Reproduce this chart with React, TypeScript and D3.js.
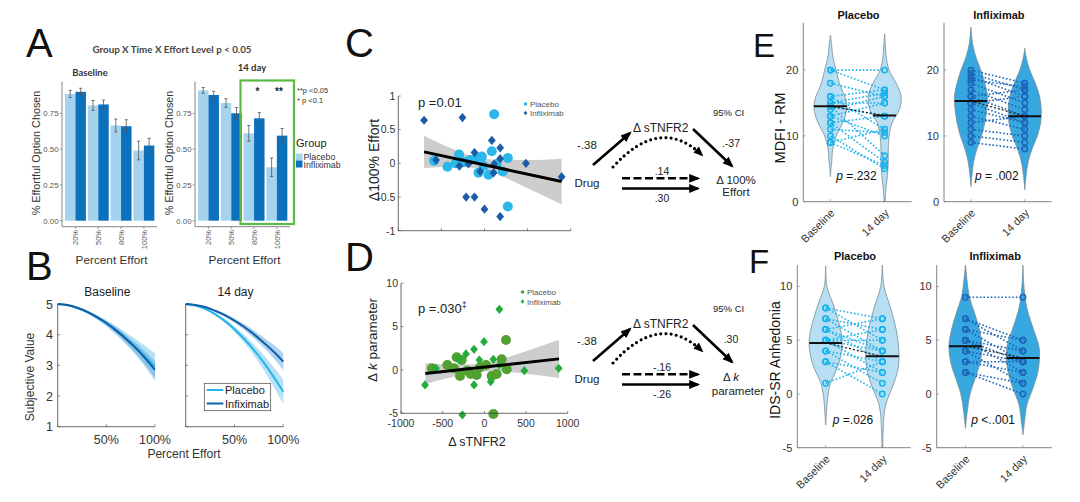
import React from 'react';
import * as d3 from 'd3';

const FONT = "'Liberation Sans', Arial, Helvetica, sans-serif";

// ---------- Panel A data ----------
const effortLevels = ['20%', '50%', '80%', '100%'];
const aBasePlacebo = [0.885, 0.805, 0.665, 0.49];
const aBaseInflix = [0.9, 0.812, 0.66, 0.525];
const aBasePlaceboErr = [0.025, 0.035, 0.045, 0.065];
const aBaseInflixErr = [0.025, 0.03, 0.045, 0.05];
const a14Placebo = [0.91, 0.822, 0.61, 0.373];
const a14Inflix = [0.878, 0.75, 0.715, 0.594];
const a14PlaceboErr = [0.02, 0.03, 0.055, 0.065];
const a14InflixErr = [0.025, 0.04, 0.04, 0.05];
const aYTicks = [0, 0.25, 0.5, 0.75];
const aYTickLabels = ['0.00', '0.25', '0.50', '0.75'];

// ---------- Panel B data ----------
const bEffort = [0, 0.1, 0.2, 0.3, 0.4, 0.5, 0.6, 0.7, 0.8, 0.9, 1.0];
const bBasePlacebo = [5.0, 4.96, 4.87, 4.74, 4.57, 4.37, 4.14, 3.88, 3.6, 3.29, 2.95];
const bBasePlaceboCI = [0, 0.01, 0.02, 0.04, 0.07, 0.1, 0.14, 0.19, 0.26, 0.34, 0.45];
const bBaseInflix = [5.0, 4.97, 4.88, 4.75, 4.58, 4.38, 4.14, 3.87, 3.57, 3.23, 2.85];
const bBaseInflixCI = [0, 0.01, 0.02, 0.03, 0.05, 0.07, 0.1, 0.13, 0.17, 0.22, 0.28];
const b14Placebo = [5.0, 4.95, 4.84, 4.67, 4.45, 4.18, 3.86, 3.5, 3.09, 2.63, 2.14];
const b14PlaceboCI = [0, 0.01, 0.02, 0.04, 0.06, 0.09, 0.13, 0.18, 0.24, 0.32, 0.4];
const b14Inflix = [5.0, 4.97, 4.9, 4.78, 4.64, 4.46, 4.25, 4.01, 3.74, 3.45, 3.12];
const b14InflixCI = [0, 0.01, 0.02, 0.03, 0.05, 0.07, 0.1, 0.13, 0.17, 0.22, 0.28];
const bYTicks = [1, 2, 3, 4, 5];
const bXTicks = [0.5, 1.0];
const bXTickLabels = ['50%', '100%'];

// ---------- Panel C data ----------
const cPlaceboX = [112, -585, -430, -295, -333, -167, -89, -31, 85, -12, -70, 46, 143, 213, 271, 271, -240];
const cPlaceboY = [0.73, 0.04, -0.05, 0.13, 0.0, 0.05, 0.08, 0.1, 0.18, -0.04, -0.14, -0.17, -0.01, -0.12, 0.08, -0.64, 0.02];
const cInflixX = [-701, -256, -562, -116, -291, -186, -213, -116, 0, 85, 182, 182, 112, 182, -50, 105, 481, 895];
const cInflixY = [0.64, 0.68, 0.05, 0.16, -0.04, -0.01, -0.5, -0.5, -0.68, 0.34, 0.23, -0.79, -0.01, 0.07, -0.12, -0.14, 0.0, -0.2];
const cFitX = [-701, -400, -100, 200, 500, 895];
const cFitY = [0.17, 0.09, 0.01, -0.07, -0.16, -0.27];
const cFitCI = [0.24, 0.14, 0.08, 0.12, 0.21, 0.34];
const cYTicks = [-1, -0.5, 0, 0.5, 1];
const sXTicks = [-1000, -500, 0, 500, 1000];

// ---------- Panel D data ----------
const dPlaceboX = [-628, -444, -332, -272, -292, -204, -164, -92, -52, 20, 88, 148, 208, 268, 260, 108, -364];
const dPlaceboY = [0.19, 0.58, 1.46, 1.15, -0.69, -0.08, -0.46, -0.58, 0.31, 0.58, -0.69, -0.46, 1.23, 0.08, 3.46, -5.08, 0.2];
const dInflixX = [-712, -264, -4, 180, -124, -124, -220, -60, 108, 76, 480, 892, -580, -308, 180];
const dInflixY = [-1.73, -5.19, 3.27, 7.0, -1.73, 2.38, 1.85, 1.15, 1.23, -1.35, -0.08, 0.19, 0.19, 1.23, 0.58];
const dFitX = [-708, -400, -100, 200, 500, 896];
const dFitY = [-0.42, -0.1, 0.22, 0.54, 0.86, 1.28];
const dFitCI = [1.2, 0.75, 0.45, 0.7, 1.3, 2.2];
const dYTicks = [-5, 0, 5, 10];

// ---------- Path diagrams ----------
const pathCoefC = ['-.38', '.-37', '.14', '.30'];
const pathCoefD = ['-.38', '.30', '-.16', '-.26'];

// ---------- Panel E data ----------
const ePlaceboBaseProfile = [[3.8, 0], [5, 0.03], [6, 0.08], [8, 0.14], [10, 0.35], [12, 0.75], [13, 0.9], [14.5, 1], [16, 0.88], [17, 0.7], [18, 0.55], [20, 0.35], [22, 0.15], [24, 0.07], [25.3, 0]];
const ePlacebo14Profile = [[0, 0.03], [2, 0.08], [4, 0.17], [6, 0.22], [8, 0.22], [10, 0.27], [12, 0.45], [14, 0.9], [16, 1], [18, 0.7], [20, 0.27], [22, 0.1], [24, 0.04], [25.5, 0]];
const eInflixBaseProfile = [[2.3, 0], [4, 0.06], [6, 0.16], [8, 0.36], [10, 0.64], [12, 0.84], [14, 0.96], [16, 1], [18, 0.84], [20, 0.6], [22, 0.3], [24, 0.1], [26.5, 0]];
const eInflix14Profile = [[1.8, 0], [4, 0.08], [6, 0.2], [8, 0.44], [10, 0.76], [12, 0.96], [14, 1], [16, 0.9], [18, 0.64], [20, 0.3], [22, 0.08], [23.3, 0]];
const ePlaceboBase = [20, 20, 18, 16, 16, 15, 15, 14.5, 14.5, 14, 13, 13, 12, 12, 11, 10, 9, 9];
const ePlacebo14 = [20, 17, 16, 17, 11, 16.5, 15, 13, 7, 16, 10, 15, 6, 13, 10.5, 5, 5.5, 11];
const eInflixBase = [20, 19.5, 19, 18.5, 18, 17, 16, 16, 15, 15, 14, 13, 12, 11, 10, 9];
const eInflix14 = [18, 17, 16, 17.5, 15, 14, 13, 17, 16, 12, 12, 11, 13, 10, 9, 8];
const eMedians = [14.5, 13.1, 15.3, 13.0];
const eYTicks = [0, 10, 20];

// ---------- Panel F data ----------
const fPlaceboBaseProfile = [[-2.9, 0], [-1, 0.08], [0, 0.15], [1, 0.29], [2, 0.58], [3, 0.83], [4.5, 1], [5.5, 0.96], [7, 0.73], [8.5, 0.42], [10, 0.08], [11.9, 0]];
const fPlacebo14Profile = [[-5, 0.02], [-3, 0.06], [-2, 0.1], [-1, 0.2], [0, 0.44], [1, 0.7], [2, 0.9], [3, 1], [4, 1], [6, 0.84], [8, 0.5], [10, 0.1], [12, 0]];
const fInflixBaseProfile = [[-3.2, 0], [-1.5, 0.12], [0, 0.28], [1.5, 0.6], [3, 0.9], [4.5, 1], [6, 0.84], [7.5, 0.56], [9, 0.24], [10.5, 0.1], [12, 0]];
const fInflix14Profile = [[-3.8, 0], [-2.5, 0.1], [-1, 0.24], [0.5, 0.6], [2, 0.9], [3.3, 1], [4.5, 0.96], [6, 0.64], [8, 0.24], [10, 0.06], [12, 0]];
const fPlaceboBase = [8, 8, 7, 7, 6, 6, 6, 5, 5, 5, 5, 4, 4, 3, 3, 1];
const fPlacebo14 = [7, 5, 6, 4, 7, 3, 4, 5, 2, 4, 6, 3, 1, 2, 0, 3];
const fInflixBase = [9, 7, 7, 6, 6, 5, 5, 5, 4, 4, 3, 3, 2, 2];
const fInflix14 = [9, 4, 5, 3, 5, 4, 2, 3, 3, 1, 3, 2, 0, 1];
const fMedians = [4.75, 3.5, 4.45, 3.35];
const fYTicks = [-5, 0, 5, 10];

const timeLabels = ['Baseline', '14 day'];

// colours
const A_PLAC = '#a5d3ee';
const A_INF = '#0c71bd';
const B_PLAC = '#22b4ea';
const B_INF = '#0f5fab';
const C_PLAC = '#2bb7ea';
const C_INF = '#1c5ba7';
const D_PLAC = '#52a02f';
const D_INF = '#24ad3b';
const V_PLAC_FILL = '#b6dff3';
const V_PLAC_DOT = '#1ab2ea';
const V_INF_FILL = '#37a7df';
const V_INF_DOT = '#1c64b8';
const AXIS = '#666';

// ---------- Panel A ----------
function BarChart({ x0, x1, placebo, inflix, pErr, iErr, title, titleX, titleY }: any) {
  const x = d3.scaleBand().domain(effortLevels).range([x0 + 2.5, x1 - 2.2]).paddingInner(0.08).paddingOuter(0.02);
  const y = d3.scaleLinear().domain([0, 1]).range([220.7, 77.5]);
  const bw = x.bandwidth() / 2;
  return (
    <g>
      <text x={titleX} y={titleY} fontSize={9.5} fontWeight="bold" fill="#333" textAnchor="middle" fontFamily="Lato, 'Liberation Sans', sans-serif">{title}</text>
      {effortLevels.map((l, i) => (
        <g key={l}>
          <rect x={x(l)} y={y(placebo[i])} width={bw} height={y(0) - y(placebo[i])} fill={A_PLAC} />
          <rect x={(x(l) as number) + bw} y={y(inflix[i])} width={bw} height={y(0) - y(inflix[i])} fill={A_INF} />
          {[[placebo[i], pErr[i], (x(l) as number) + bw / 2], [inflix[i], iErr[i], (x(l) as number) + bw * 1.5]].map(([v, e, cx], k) => (
            <g key={k} stroke="#555" strokeWidth={0.8}>
              <line x1={cx} x2={cx} y1={y(v - e)} y2={y(v + e)} />
              <line x1={cx - 1.6} x2={cx + 1.6} y1={y(v - e)} y2={y(v - e)} />
              <line x1={cx - 1.6} x2={cx + 1.6} y1={y(v + e)} y2={y(v + e)} />
            </g>
          ))}
          <line x1={(x(l) as number) + bw} x2={(x(l) as number) + bw} y1={226.7} y2={229} stroke={AXIS} strokeWidth={0.6} />
          <text transform={`translate(${(x(l) as number) + bw + 3},${230}) rotate(-90)`} fontSize={7.5} fill="#555" textAnchor="end">{l}</text>
        </g>
      ))}
      <line x1={x0} x2={x0} y1={81.7} y2={226.7} stroke={AXIS} strokeWidth={0.8} />
      <line x1={x0} x2={x1} y1={226.7} y2={226.7} stroke={AXIS} strokeWidth={0.8} />
      {aYTicks.map((t, i) => (
        <g key={t}>
          <line x1={x0 - 2.5} x2={x0} y1={y(t)} y2={y(t)} stroke={AXIS} strokeWidth={0.6} />
          <text x={x0 - 3.5} y={y(t) + 2.8} fontSize={7.8} fill="#555" textAnchor="end">{aYTickLabels[i]}</text>
        </g>
      ))}
      <text transform={`translate(${x0 - 22},${153}) rotate(-90)`} fontSize={10.8} fill="#333" textAnchor="middle">% Effortful Option Chosen</text>
      <text x={(x0 + x1) / 2 + 2} y={264} fontSize={11.8} fill="#333" textAnchor="middle">Percent Effort</text>
    </g>
  );
}

function PanelA() {
  return (
    <g>
      <text x={26} y={57} fontSize={40} fill="#111">A</text>
      <text x={172} y={53} fontSize={9.8} fontWeight="bold" fill="#444" textAnchor="middle" fontFamily="Lato, 'Liberation Sans', sans-serif">Group X Time X Effort Level p &lt; 0.05</text>
      <BarChart x0={62} x1={157} placebo={aBasePlacebo} inflix={aBaseInflix} pErr={aBasePlaceboErr} iErr={aBaseInflixErr} title="Baseline" titleX={90} titleY={76} />
      <BarChart x0={195} x1={290} placebo={a14Placebo} inflix={a14Inflix} pErr={a14PlaceboErr} iErr={a14InflixErr} title="14 day" titleX={252} titleY={71} />
      <rect x={240.5} y={80.5} width={53.5} height={143.5} fill="none" stroke="#5cb946" strokeWidth={2.2} />
      <text x={257.5} y={95} fontSize={10} fill="#222" textAnchor="middle" fontWeight="bold">*</text>
      <text x={279} y={95} fontSize={10} fill="#222" textAnchor="middle" fontWeight="bold">**</text>
      <text x={297} y={93} fontSize={7.5} fill="#333">**p &lt;0.05</text>
      <text x={297} y={103} fontSize={7.5} fill="#333">*  p &lt;0.1</text>
      <text x={296} y={147} fontSize={11} fill="#222">Group</text>
      <rect x={296} y={153.5} width={6.5} height={7} fill={A_PLAC} />
      <rect x={296} y={160.5} width={6.5} height={7} fill={A_INF} />
      <text x={303.5} y={159.5} fontSize={8.8} fill="#333">Placebo</text>
      <text x={303.5} y={168} fontSize={8.8} fill="#333">Infliximab</text>
    </g>
  );
}

// ---------- Panel B ----------
function CurvePanel({ x0, x1, series, title, showYLabels, legend }: any) {
  const x = d3.scaleLinear().domain([0, 1]).range([x0, x1]);
  const y = d3.scaleLinear().domain([1, 5]).range([426.7, 304]);
  const line = d3.line().x((d: any) => x(d[0])).y((d: any) => y(d[1])).curve(d3.curveMonotoneX);
  const area = d3.area().x((d: any) => x(d[0])).y0((d: any) => y(d[1] - d[2])).y1((d: any) => y(d[1] + d[2])).curve(d3.curveMonotoneX);
  return (
    <g>
      <text x={(x0 + x1) / 2 + 1} y={296} fontSize={12} fill="#222" textAnchor="middle">{title}</text>
      {series.map((s: any, i: number) => (
        <path key={'a' + i} d={area(bEffort.map((e, k) => [e, s.mean[k], s.ci[k]])) as string} fill={s.band} opacity={s.op} />
      ))}
      {series.map((s: any, i: number) => (
        <path key={'l' + i} d={line(bEffort.map((e, k) => [e, s.mean[k]])) as string} fill="none" stroke={s.color} strokeWidth={2} />
      ))}
      <line x1={x0} x2={x0} y1={y(5)} y2={y(1)} stroke="#444" strokeWidth={0.8} />
      <line x1={x0} x2={x1} y1={y(1)} y2={y(1)} stroke="#444" strokeWidth={0.8} />
      {bYTicks.map((t) => (
        <g key={t}>
          <line x1={x0} x2={x0 + 2.5} y1={y(t)} y2={y(t)} stroke="#444" strokeWidth={0.6} />
          {showYLabels && <text x={53} y={y(t) + 4.5} fontSize={12.5} fill="#333" textAnchor="end">{t}</text>}
        </g>
      ))}
      {bXTicks.map((t, i) => (
        <g key={t}>
          <line x1={x(t)} x2={x(t)} y1={y(1)} y2={y(1) - 2.5} stroke="#444" strokeWidth={0.6} />
          <text x={x(t)} y={444} fontSize={12.5} fill="#333" textAnchor="middle">{bXTickLabels[i]}</text>
        </g>
      ))}
      {legend && (
        <g>
          <rect x={204.3} y={383.3} width={66.4} height={27.4} fill="#fff" stroke="#444" strokeWidth={0.7} />
          <line x1={206.7} x2={223.3} y1={390} y2={390} stroke={B_PLAC} strokeWidth={2} />
          <line x1={206.7} x2={223.3} y1={403.5} y2={403.5} stroke={B_INF} strokeWidth={2} />
          <text x={225} y={394} fontSize={11} fill="#222">Placebo</text>
          <text x={225} y={407.5} fontSize={11} fill="#222">Infiximab</text>
        </g>
      )}
    </g>
  );
}

function PanelB() {
  return (
    <g>
      <text x={26} y={280} fontSize={40} fill="#111">B</text>
      <CurvePanel x0={57.7} x1={155} title="Baseline" showYLabels
        series={[
          { mean: bBasePlacebo, ci: bBasePlaceboCI, color: B_PLAC, band: '#9fd7f1', op: 0.75 },
          { mean: bBaseInflix, ci: bBaseInflixCI, color: B_INF, band: '#4f9fd6', op: 0.45 },
        ]} />
      <CurvePanel x0={185.7} x1={283.3} title="14 day" legend
        series={[
          { mean: b14Placebo, ci: b14PlaceboCI, color: B_PLAC, band: '#9fd7f1', op: 0.75 },
          { mean: b14Inflix, ci: b14InflixCI, color: B_INF, band: '#4f9fd6', op: 0.45 },
        ]} />
      <text transform="translate(34,377) rotate(-90)" fontSize={12} fill="#333" textAnchor="middle">Subjective Value</text>
      <text x={184} y={458} fontSize={12} fill="#333" textAnchor="middle">Percent Effort</text>
    </g>
  );
}

// ---------- Scatter (C, D) ----------
function diamondPath(cx: number, cy: number, w: number, h: number) {
  return `M${cx},${cy - h}L${cx + w},${cy}L${cx},${cy + h}L${cx - w},${cy}Z`;
}

function Scatter({ x, y, px, py, ix, iy, fitX, fitY, fitCI, pc, ic, yTicks, yTickFmt, xLabels }: any) {
  const [yLo, yHi] = y.domain();
  const area = d3.area().x((d: any) => x(d[0])).y0((d: any) => y(d[1] - d[2])).y1((d: any) => y(d[1] + d[2])).curve(d3.curveMonotoneX);
  const line = d3.line().x((d: any) => x(d[0])).y((d: any) => y(d[1]));
  const [xa, xb] = x.range();
  return (
    <g>
      <path d={area(fitX.map((v: number, i: number) => [v, fitY[i], fitCI[i]])) as string} fill="#c4c4c4" opacity={0.85} />
      {px.map((v: number, i: number) => (
        <circle key={'p' + i} cx={x(v)} cy={y(py[i])} r={5} fill={pc} />
      ))}
      {ix.map((v: number, i: number) => (
        <path key={'i' + i} d={diamondPath(x(v), y(iy[i]), 3.9, 4.6)} fill={ic} />
      ))}
      <path d={line([[fitX[0], fitY[0]], [fitX[fitX.length - 1], fitY[fitY.length - 1]]]) as string} stroke="#000" strokeWidth={3} fill="none" />
      <line x1={xa} x2={xa} y1={y(yLo)} y2={y(yHi)} stroke="#444" strokeWidth={0.8} />
      <line x1={xa} x2={xb} y1={y(yLo)} y2={y(yLo)} stroke="#444" strokeWidth={0.8} />
      {yTicks.map((t: number) => (
        <g key={t}>
          <line x1={xa} x2={xa + 2.5} y1={y(t)} y2={y(t)} stroke="#444" strokeWidth={0.6} />
          <text x={xa - 3} y={y(t) + 3.8} fontSize={10.5} fill="#333" textAnchor="end">{yTickFmt(t)}</text>
        </g>
      ))}
      {sXTicks.map((t) => (
        <g key={t}>
          <line x1={x(t)} x2={x(t)} y1={y(yLo)} y2={y(yLo) - 2.5} stroke="#444" strokeWidth={0.6} />
          {xLabels && <text x={x(t)} y={y(yLo) + 14} fontSize={10.5} fill="#333" textAnchor="middle">{t}</text>}
        </g>
      ))}
    </g>
  );
}

function PanelC() {
  const x = d3.scaleLinear().domain([-1000, 1000]).range([398.3, 570.7]);
  const y = d3.scaleLinear().domain([-1, 1]).range([230.7, 96]);
  return (
    <g>
      <text x={345} y={57} fontSize={40} fill="#111">C</text>
      <Scatter x={x} y={y} px={cPlaceboX} py={cPlaceboY} ix={cInflixX} iy={cInflixY} fitX={cFitX} fitY={cFitY} fitCI={cFitCI}
        pc={C_PLAC} ic={C_INF} yTicks={cYTicks} yTickFmt={(t: number) => String(t)} xLabels={false} />
      <text x={418} y={107} fontSize={13} fill="#222">p =0.01</text>
      <circle cx={525.5} cy={104} r={1.8} fill={C_PLAC} />
      <path d={diamondPath(525.5, 113, 1.8, 2.2)} fill={C_INF} />
      <text x={530} y={107} fontSize={8} fill="#555">Placebo</text>
      <text x={530} y={116} fontSize={8} fill="#555">Infliximab</text>
      <text transform="translate(379,160) rotate(-90)" fontSize={14} fill="#222" textAnchor="middle">Δ100% Effort</text>
    </g>
  );
}

function PanelD() {
  const x = d3.scaleLinear().domain([-1000, 1000]).range([401, 567.7]);
  const y = d3.scaleLinear().domain([-5, 10]).range([413.3, 283.3]);
  return (
    <g>
      <text x={345} y={271} fontSize={40} fill="#111">D</text>
      <Scatter x={x} y={y} px={dPlaceboX} py={dPlaceboY} ix={dInflixX} iy={dInflixY} fitX={dFitX} fitY={dFitY} fitCI={dFitCI}
        pc={D_PLAC} ic={D_INF} yTicks={dYTicks} yTickFmt={(t: number) => String(t)} xLabels />
      <text x={418} y={313} fontSize={13} fill="#222">p =.030<tspan dy={-5} fontSize={9}>‡</tspan></text>
      <circle cx={522.5} cy={292} r={1.8} fill={D_PLAC} />
      <path d={diamondPath(522.5, 301.5, 1.8, 2.2)} fill={D_INF} />
      <text x={527} y={295} fontSize={8} fill="#555">Placebo</text>
      <text x={527} y={304.5} fontSize={8} fill="#555">Infliximab</text>
      <text transform="translate(377,340) rotate(-90)" fontSize={13.5} fill="#222" textAnchor="middle">Δ <tspan fontStyle="italic">k</tspan> parameter</text>
      <text x={477} y={446} fontSize={12.5} fill="#222" textAnchor="middle">Δ sTNFR2</text>
    </g>
  );
}

// ---------- Path diagrams ----------
function PathDiagram({ dy, coefs, outcome }: any) {
  const t = (v: number) => v + dy;
  return (
    <g fontSize={11.5} fill="#222">
      <text x={587} y={t(149)} textAnchor="middle">{coefs[0]}</text>
      <line x1={593} y1={t(165)} x2={630} y2={t(133)} stroke="#000" strokeWidth={2.6} markerEnd="url(#arrowHead)" />
      <text x={633} y={t(132)} fontSize={12}>Δ sTNFR2</text>
      <line x1={693} y1={t(129)} x2={732} y2={t(166)} stroke="#000" strokeWidth={2.6} markerEnd="url(#arrowHead)" />
      <text x={713} y={t(116)} fontSize={9.5}>95% CI</text>
      <text x={731} y={t(147)} textAnchor="middle" fontSize={10.5}>{coefs[1]}</text>
      <path d={`M613,${t(167)} Q660,${t(115)} 702,${t(155)}`} fill="none" stroke="#000" strokeWidth={3.2} strokeDasharray="0 5.2" strokeLinecap="round" markerEnd="url(#arrowHeadSmall)" />
      <line x1={622} y1={t(178.3)} x2={698} y2={t(178.3)} stroke="#000" strokeWidth={2.6} strokeDasharray="8 3.5" markerEnd="url(#arrowHead)" />
      <text x={662} y={t(174.5)} textAnchor="middle" fontSize={10.5}>{coefs[2]}</text>
      <line x1={622} y1={t(188.5)} x2={698} y2={t(188.5)} stroke="#000" strokeWidth={2.6} markerEnd="url(#arrowHead)" />
      <text x={662} y={t(202)} textAnchor="middle" fontSize={10.5}>{coefs[3]}</text>
      <text x={587} y={t(187)} textAnchor="middle">Drug</text>
      {outcome}
    </g>
  );
}

// ---------- Violins (E, F) ----------
function widthAt(profile: number[][], v: number) {
  for (let i = 0; i < profile.length - 1; i++) {
    const [a, wa] = profile[i];
    const [b, wb] = profile[i + 1];
    if (v >= a && v <= b) return wa + ((v - a) / (b - a)) * (wb - wa);
  }
  return 0;
}

function ViolinPanel({ x0, x1, y, profiles, medians, base, day14, fill, dot, title, titleY, pText, pY, ticks, tickFmt }: any) {
  const x = d3.scaleLinear().domain([0.5, 2.5]).range([x0, x1]);
  const hw = d3.scaleLinear().domain([0, 1]).range([0, 16.5]);
  const [yLo, yHi] = y.domain();
  const centers = [x(1), x(2)];
  const mkArea = (cx: number) =>
    d3.area().y((d: any) => y(d[0])).x0((d: any) => cx - hw(d[1])).x1((d: any) => cx + hw(d[1])).curve(d3.curveCatmullRom);
  return (
    <g>
      <text x={(x0 + x1) / 2 + 1} y={titleY} fontSize={11} fontWeight="bold" fill="#111" textAnchor="middle">{title}</text>
      {profiles.map((p: number[][], i: number) => (
        <path key={'v' + i} d={mkArea(centers[i])(p as any) as string} fill={fill} stroke="#7b8b96" strokeWidth={0.8} />
      ))}
      {base.map((b: number, i: number) => (
        <line key={'c' + i} x1={centers[0]} y1={y(b)} x2={centers[1]} y2={y(day14[i])} stroke={dot} strokeWidth={1.6} strokeDasharray="1.6 2" />
      ))}
      {base.map((b: number, i: number) => (
        <circle key={'b' + i} cx={centers[0]} cy={y(b)} r={2.7} fill="none" stroke={dot} strokeWidth={1.5} />
      ))}
      {day14.map((b: number, i: number) => (
        <circle key={'d' + i} cx={centers[1]} cy={y(b)} r={2.7} fill="none" stroke={dot} strokeWidth={1.5} />
      ))}
      <line x1={centers[0]} y1={y(medians[0])} x2={centers[1]} y2={y(medians[1])} stroke="#222" strokeWidth={1.3} strokeDasharray="2 2" />
      {medians.map((m: number, i: number) => {
        const w = hw(widthAt(profiles[i], m));
        return <line key={'m' + i} x1={centers[i] - w} x2={centers[i] + w} y1={y(m)} y2={y(m)} stroke="#111" strokeWidth={2} />;
      })}
      <text x={(centers[0] + centers[1]) / 2 - 1} y={pY} fontSize={12} fill="#111" textAnchor="middle"><tspan fontStyle="italic">p</tspan>{pText}</text>
      <line x1={x0} x2={x0} y1={y(yLo)} y2={y(yHi)} stroke="#777" strokeWidth={0.9} />
      <line x1={x0} x2={x1} y1={y(yLo)} y2={y(yLo)} stroke="#777" strokeWidth={0.9} />
      {ticks.map((t: number) => (
        <g key={t}>
          <line x1={x0} x2={x0 + 2.5} y1={y(t)} y2={y(t)} stroke="#777" strokeWidth={0.6} />
          <text x={x0 - 5} y={y(t) + 4} fontSize={11} fill="#333" textAnchor="end">{tickFmt(t)}</text>
        </g>
      ))}
      {timeLabels.map((l, i) => (
        <g key={l}>
          <line x1={centers[i]} x2={centers[i]} y1={y(yLo)} y2={y(yLo) - 2.5} stroke="#777" strokeWidth={0.6} />
          <text transform={`translate(${centers[i] + 5},${y(yLo) + 12}) rotate(-45)`} fontSize={11} fill="#333" textAnchor="end">{l}</text>
        </g>
      ))}
    </g>
  );
}

function PanelE() {
  const y = d3.scaleLinear().domain([0, 27.2]).range([201.7, 22.7]);
  return (
    <g>
      <text x={753} y={57} fontSize={33} fill="#111">E</text>
      <ViolinPanel x0={803.3} x1={911.7} y={y} profiles={[ePlaceboBaseProfile, ePlacebo14Profile]} medians={[eMedians[0], eMedians[1]]}
        base={ePlaceboBase} day14={ePlacebo14} fill={V_PLAC_FILL} dot={V_PLAC_DOT} title="Placebo" titleY={19}
        pText=" =.232" pY={180} ticks={eYTicks} tickFmt={(t: number) => String(t)} />
      <ViolinPanel x0={944} x1={1051.7} y={y} profiles={[eInflixBaseProfile, eInflix14Profile]} medians={[eMedians[2], eMedians[3]]}
        base={eInflixBase} day14={eInflix14} fill={V_INF_FILL} dot={V_INF_DOT} title="Infliximab" titleY={19}
        pText=" = .002" pY={180} ticks={eYTicks} tickFmt={(t: number) => String(t)} />
      <text transform="translate(785,128) rotate(-90)" fontSize={14.5} fill="#111" textAnchor="middle">MDFI - RM</text>
    </g>
  );
}

function PanelF() {
  const y = d3.scaleLinear().domain([-5, 12]).range([447.7, 265]);
  return (
    <g>
      <text x={749} y={273} fontSize={33} fill="#111">F</text>
      <ViolinPanel x0={797.3} x1={910.7} y={y} profiles={[fPlaceboBaseProfile, fPlacebo14Profile]} medians={[fMedians[0], fMedians[1]]}
        base={fPlaceboBase} day14={fPlacebo14} fill={V_PLAC_FILL} dot={V_PLAC_DOT} title="Placebo" titleY={260}
        pText=" =.026" pY={424} ticks={fYTicks} tickFmt={(t: number) => String(t)} />
      <ViolinPanel x0={936.7} x1={1051.7} y={y} profiles={[fInflixBaseProfile, fInflix14Profile]} medians={[fMedians[2], fMedians[3]]}
        base={fInflixBase} day14={fInflix14} fill={V_INF_FILL} dot={V_INF_DOT} title="Infliximab" titleY={260}
        pText=" <..001" pY={424} ticks={fYTicks} tickFmt={(t: number) => String(t)} />
      <text transform="translate(780,360) rotate(-90)" fontSize={14} fill="#111" textAnchor="middle">IDS-SR Anhedonia</text>
    </g>
  );
}

export default function App() {
  return (
    <svg width={1080} height={502} style={{ position: 'absolute', left: 0, top: 0, background: '#fff' }} fontFamily={FONT}>
      <defs>
        <marker id="arrowHead" viewBox="0 0 10 10" refX={8} refY={5} markerWidth={11} markerHeight={11} markerUnits="userSpaceOnUse" orient="auto">
          <path d="M0,1 L10,5 L0,9 z" fill="#000" />
        </marker>
        <marker id="arrowHeadSmall" viewBox="0 0 10 10" refX={8} refY={5} markerWidth={10} markerHeight={10} markerUnits="userSpaceOnUse" orient="auto">
          <path d="M0,1 L10,5 L0,9 z" fill="#000" />
        </marker>
      </defs>
      <rect width={1080} height={502} fill="#fff" />
      <PanelA />
      <PanelB />
      <PanelC />
      <PanelD />
      <PathDiagram dy={0} coefs={pathCoefC} outcome={
        <g>
          <text x={736} y={184} textAnchor="middle">Δ 100%</text>
          <text x={736} y={196} textAnchor="middle">Effort</text>
        </g>
      } />
      <PathDiagram dy={196} coefs={pathCoefD} outcome={
        <g>
          <text x={731} y={381} textAnchor="middle">Δ <tspan fontStyle="italic">k</tspan></text>
          <text x={738} y={395} textAnchor="middle">parameter</text>
        </g>
      } />
      <PanelE />
      <PanelF />
    </svg>
  );
}
